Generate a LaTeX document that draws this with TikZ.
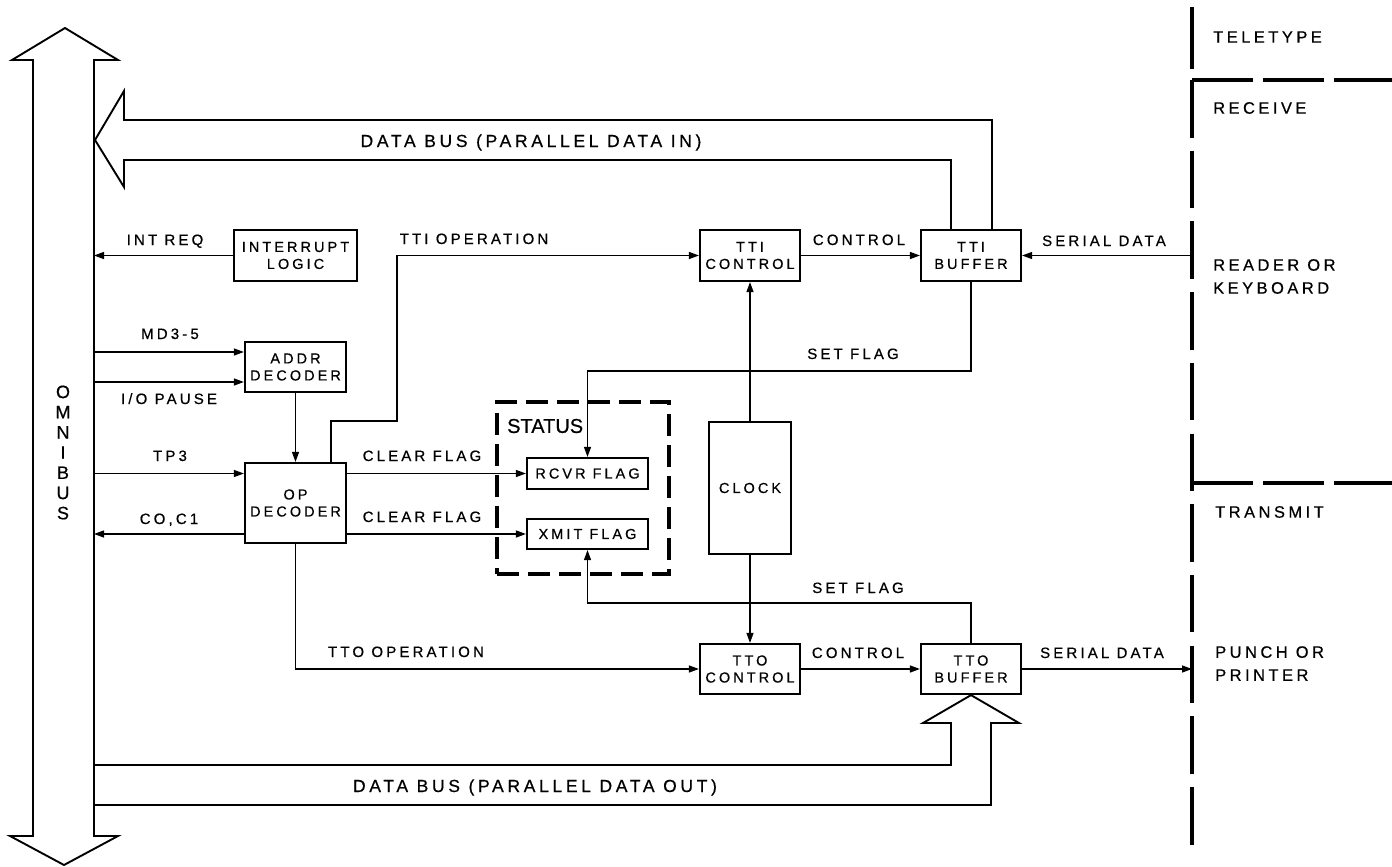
\documentclass[tikz,border=0pt]{standalone}
\usepackage{fontspec}
\setmainfont{Liberation Sans}[LetterSpace=21,FakeBold=0.6]
\newfontfamily\plainfont{Liberation Sans}[FakeBold=0.6]
\usetikzlibrary{arrows.meta}
\begin{document}
\begin{tikzpicture}[x=1pt,y=-1pt,
  blk/.style={draw,line width=2.2pt,rectangle,inner sep=0pt,align=center,font=\fontsize{14.5}{17}\selectfont},
  lbl/.style={inner sep=0pt,anchor=base,font=\fontsize{15}{17}\selectfont},
  big/.style={inner sep=0pt,anchor=base,font=\fontsize{17.5}{23}\selectfont},
  side/.style={inner sep=0pt,anchor=west,align=left,font=\fontsize{16.5}{23}\selectfont},
  conn/.style={line width=1.3pt},
  arr/.style={conn,-{Triangle[length=10pt,width=7pt]}},
  bus/.style={line width=1.9pt,line join=miter},
  part/.style={line width=3.6pt},
]
\useasboundingbox (0,0) rectangle (1392,867);

% ---------- blocks ----------
\node[blk,minimum width=123pt,minimum height=51pt] (intl)   at (295.5,255.5) {INTERRUPT\\LOGIC};
\node[blk,minimum width=100pt,minimum height=51pt] (ttictl) at (750,255.5) {TTI\\CONTROL};
\node[blk,minimum width=100pt,minimum height=51pt] (ttibuf) at (971,255.5) {TTI\\BUFFER};
\node[blk,minimum width=101pt,minimum height=50pt] (addr)   at (295.5,367) {ADDR\\DECODER};
\node[blk,minimum width=101pt,minimum height=80pt] (op)     at (295.5,503) {OP\\DECODER};
\node[blk,minimum width=121pt,minimum height=31pt] (rcvr)   at (587.5,473.5) {RCVR FLAG};
\node[blk,minimum width=121pt,minimum height=30pt] (xmit)   at (587.5,534) {XMIT FLAG};
\node[blk,minimum width=82pt,minimum height=132pt] (clock)  at (750,488) {CLOCK};
\node[blk,minimum width=100pt,minimum height=50pt] (ttoctl) at (750,669) {TTO\\CONTROL};
\node[blk,minimum width=100pt,minimum height=50pt] (ttobuf) at (971,669) {TTO\\BUFFER};
\node[draw,line width=3.6pt,dash pattern=on 22pt off 9pt,minimum width=172pt,minimum height=172pt,inner sep=0pt] (stat) at (583,488) {};
\node[inner sep=0pt,anchor=west,font=\plainfont\fontsize{20}{24}\selectfont] (statl) at (507,426) {STATUS};

% ---------- omnibus ----------
\draw[bus] (65,28) -- (118,60) -- (94,60) -- (94,836) -- (118,836) -- (64,865) -- (10,836) -- (33,836) -- (33,60) -- (12,60) -- cycle;
\node[inner sep=0pt,align=center,font=\plainfont\fontsize{18}{20.2}\selectfont] (omn) at (63,452.5) {O\\M\\N\\I\\B\\U\\S};

% ---------- data buses ----------
\draw[bus] ([xshift=21pt]ttibuf.north) -- (992,120) -- (124,120) -- (124,91) -- (95,140) -- (124,187) -- (124,160) -- (951,160) -- ([xshift=-20pt]ttibuf.north);
\node[big] (dbin) at (531,147) {DATA BUS (PARALLEL DATA IN)};
\draw[bus] (94,765) -- (951,765) -- (951,723) -- (923,723) -- (ttobuf.south) -- (1019,723) -- (991,723) -- (991,805) -- (94,805);
\node[big] (dbout) at (535,792) {DATA BUS (PARALLEL DATA OUT)};

% ---------- omnibus connections ----------
\coordinate (bIR) at (94,255.5);
\coordinate (bMD) at (94,352);
\coordinate (bIO) at (94,382);
\coordinate (bTP) at (94,473.5);
\coordinate (bCO) at (94,534);
\draw[arr] (intl.west) -- (bIR);
\draw[arr] (bMD) -- (bMD -| addr.west);
\draw[arr] (bIO) -- (bIO -| addr.west);
\draw[arr] (bTP) -- (bTP -| op.west);
\draw[arr] (bCO -| op.west) -- (bCO);
\node[lbl] at (165,245) {INT REQ};
\node[lbl] at (170,339) {MD3-5};
\node[lbl] at (169,404) {I/O PAUSE};
\node[lbl] at (170,461) {TP3};
\node[lbl] at (169,524) {CO,C1};

% ---------- decoder connections ----------
\draw[arr] (addr.south) -- (op.north);
\draw[arr] (rcvr.west -| op.east) -- (rcvr.west);
\draw[arr] (xmit.west -| op.east) -- (xmit.west);
\node[lbl] at (422,461) {CLEAR FLAG};
\node[lbl] at (422,522) {CLEAR FLAG};
\coordinate (t1) at (331,421);
\coordinate (t2) at (397,421);
\draw[arr] ([xshift=35.5pt]op.north) -- (t1) -- (t2) -- (t2 |- ttictl.west) -- (ttictl.west);
\node[lbl] at (474,244) {TTI OPERATION};
\draw[arr] (op.south) |- (ttoctl.west);
\node[lbl] at (406,657) {TTO OPERATION};

% ---------- control / clock ----------
\draw[arr] (clock.north) -- (ttictl.south);
\draw[arr] (clock.south) -- (ttoctl.north);
\draw[arr] (ttictl.east) -- (ttibuf.west);
\draw[arr] (ttoctl.east) -- (ttobuf.west);
\node[lbl] at (859,245) {CONTROL};
\node[lbl] at (858,658) {CONTROL};

% ---------- set flags ----------
\coordinate (f1) at (971,371);
\draw[arr] (ttibuf.south) -- (f1) -| (rcvr.north);
\node[lbl] at (853,359) {SET FLAG};
\coordinate (f2) at (971,603);
\draw[arr] (ttobuf.north) -- (f2) -| (xmit.south);
\node[lbl] at (858,593) {SET FLAG};

% ---------- serial data ----------
\coordinate (sIn) at (1192,255.5);
\coordinate (sOut) at (1192,669);
\draw[arr] (sIn) -- (ttibuf.east);
\draw[arr] (ttobuf.east) -- (sOut);
\node[lbl] at (1104,246) {SERIAL DATA};
\node[lbl] at (1102,658) {SERIAL DATA};

% ---------- teletype partition ----------
\draw[part] (1192,7) -- (1192,69);
\draw[part,dash pattern=on 57.5pt off 13.2pt] (1192,80) -- (1192,846);
\draw[part,dash pattern=on 61pt off 10pt] (1192,80) -- (1392,80);
\draw[part,dash pattern=on 61pt off 10pt] (1192,483) -- (1392,483);
\node[side] (tty) at (1213,37) {TELETYPE};
\node[side] (rcv) at (1213,108) {RECEIVE};
\node[side] (rdr) at (1213,276.5) {READER OR\\KEYBOARD};
\node[side] (xmt) at (1215,512) {TRANSMIT};
\node[side] (pun) at (1215,663.5) {PUNCH OR\\PRINTER};
\end{tikzpicture}
\end{document}
